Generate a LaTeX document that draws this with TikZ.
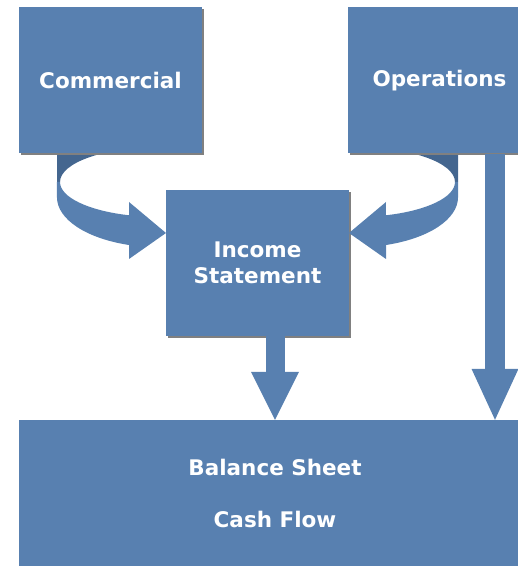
\documentclass[tikz,border=0pt]{standalone}
\usepackage{fontspec}
\newfontfamily\panelfont{DejaVu Sans}
\usepackage{tikz}
\usetikzlibrary{shadows}
\usetikzlibrary{arrows.meta}

\definecolor{panelblue}{RGB}{88,128,176}
\definecolor{paneldark}{RGB}{68,102,143}

\tikzset{
  panel/.style={fill=panelblue, text=white, inner sep=0pt, align=center,
    minimum width=183pt, minimum height=146pt,
    font=\panelfont\bfseries\fontsize{21.5}{26}\selectfont,
    drop shadow={shadow xshift=2pt, shadow yshift=-2pt, fill=black!50, opacity=1}},
  blockarrow/.style={draw=panelblue, line width=#1}
}

\begin{document}
\begin{tikzpicture}[x=1pt,y=1pt]
 \useasboundingbox (0,0) rectangle (518,566);

 % middle and bottom blocks
 \node[panel] (inc) at (257.5,303) {Income\\Statement};
 \node[panel, minimum width=512pt] (bal) at (275,73) {Balance Sheet\\[26pt]Cash Flow};

 % curved arrows, left one and its mirror image
 \foreach \side in {1,-1} {
   \begin{scope}[shift={(inc.center)}, xscale=\side]
     \fill[paneldark] (-200.5,117) -- (-200.5,81) -- (-197.5,81)
        arc[start angle=180, end angle=90, x radius=100, y radius=35] -- cycle;
     \fill[panelblue] (-197.5,81)
        arc[start angle=180, end angle=252, x radius=100, y radius=35]
        -- (-128.5,61) -- (-91.5,30) -- (-128.5,4) -- (-128.5,18)
        arc[start angle=252.5, end angle=180, x radius=103, y radius=50]
        -- (-200.5,81) -- cycle;
   \end{scope}
 }

 % top blocks
 \node[panel] (com) at (110.5,485.5) {Commercial};
 \node[panel] (ops) at (439.5,485.5) {Operations};

 % straight arrows down
 \draw[blockarrow=19pt, -{Triangle[width=48pt, length=48pt, line width=0pt]}]
   (inc.south -| bal.north) -- (bal.north);
 \draw[blockarrow=20pt, -{Triangle[width=47pt, length=51pt, line width=0pt]}]
   ([xshift=55.5pt]ops.south) -- ([xshift=55.5pt]ops.south |- bal.north);

\end{tikzpicture}
\end{document}
